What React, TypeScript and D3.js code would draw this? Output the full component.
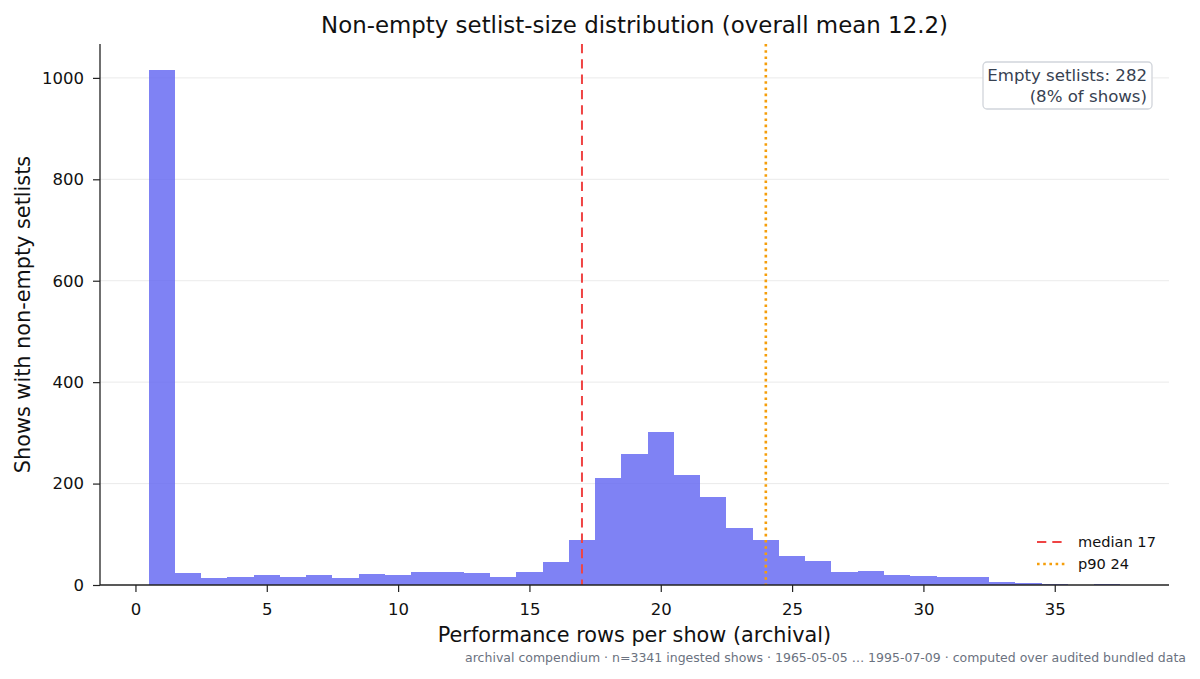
import React, { useEffect, useRef } from 'react';
import * as d3 from 'd3';

// rows per show (bin centres, width 1)
const rowCounts = [
  1, 2, 3, 4, 5, 6, 7, 8, 9, 10, 11, 12, 13, 14, 15, 16, 17, 18, 19,
  20, 21, 22, 23, 24, 25, 26, 27, 28, 29, 30, 31, 32, 33, 34, 35, 36, 37
];
// number of shows in each bin
const showCounts = [
  1016, 23, 13, 15, 19, 15, 19, 13, 21, 19, 25, 25, 23, 15, 25, 46, 88, 211, 258,
  302, 217, 173, 112, 88, 58, 47, 25, 27, 19, 17, 15, 15, 5, 3, 1, 0, 1
];
const xTicks = [0, 5, 10, 15, 20, 25, 30, 35];
const yTicks = [0, 200, 400, 600, 800, 1000];

const medianRows = 17;
const p90Rows = 24;
const emptySetlists = 282;
const emptyShare = 8;
const overallMean = 12.2;

const titleText = `Non-empty setlist-size distribution (overall mean ${overallMean})`;
const xLabel = 'Performance rows per show (archival)';
const yLabel = 'Shows with non-empty setlists';
const footerText = 'archival compendium · n=3341 ingested shows · 1965-05-05 … 1995-07-09 · computed over audited bundled data';

const FONT = '"DejaVu Sans", sans-serif';

const App: React.FC = () => {
  const svgRef = useRef<SVGSVGElement>(null);

  useEffect(() => {
    if (!svgRef.current) return;
    const width = 1200;
    const height = 679;
    const plot = { left: 100, right: 1169, top: 44, bottom: 585 };

    const root = d3.select(svgRef.current);
    root.selectAll('*').remove();
    root.attr('width', width).attr('height', height);

    root.append('rect')
      .attr('width', width)
      .attr('height', height)
      .attr('fill', '#ffffff');

    // matplotlib-style 5% padding around the bin edges
    const lo = rowCounts[0] - 0.5;
    const hi = rowCounts[rowCounts.length - 1] + 0.5;
    const pad = (hi - lo) * 0.05;
    const xScale = d3.scaleLinear()
      .domain([lo - pad, hi + pad])
      .range([plot.left, plot.right]);

    const yMax = (d3.max(showCounts) as number) * 1.05;
    const yScale = d3.scaleLinear()
      .domain([0, yMax])
      .range([plot.bottom, plot.top]);

    // gridlines
    root.append('g')
      .selectAll('line')
      .data(yTicks.filter(t => t > 0))
      .enter()
      .append('line')
      .attr('x1', plot.left)
      .attr('x2', plot.right)
      .attr('y1', d => yScale(d))
      .attr('y2', d => yScale(d))
      .attr('stroke', '#e8e8e8')
      .attr('stroke-width', 0.9);

    // histogram bars
    root.append('g')
      .selectAll('rect')
      .data(rowCounts)
      .enter()
      .append('rect')
      .attr('x', d => xScale(d - 0.5))
      .attr('width', d => xScale(d + 0.5) - xScale(d - 0.5))
      .attr('y', (d, i) => yScale(showCounts[i]))
      .attr('height', (d, i) => plot.bottom - yScale(showCounts[i]))
      .attr('fill', '#6366f1')
      .attr('fill-opacity', 0.82)
      .attr('shape-rendering', 'crispEdges');

    const medianDash = '9.3,6';
    const p90Dash = '2.6,3.6';

    // median + p90 reference lines
    root.append('line')
      .attr('x1', xScale(medianRows))
      .attr('x2', xScale(medianRows))
      .attr('y1', plot.top)
      .attr('y2', plot.bottom)
      .attr('stroke', '#ef4444')
      .attr('stroke-width', 2)
      .attr('stroke-dasharray', medianDash);

    root.append('line')
      .attr('x1', xScale(p90Rows))
      .attr('x2', xScale(p90Rows))
      .attr('y1', plot.top)
      .attr('y2', plot.bottom)
      .attr('stroke', '#f59e0b')
      .attr('stroke-width', 2.6)
      .attr('stroke-dasharray', p90Dash);

    // axes
    const xAxis = d3.axisBottom(xScale)
      .tickValues(xTicks)
      .tickFormat(d3.format('d'))
      .tickSize(7)
      .tickPadding(11)
      .tickSizeOuter(0);
    const gx = root.append('g')
      .attr('transform', `translate(0,${plot.bottom})`)
      .call(xAxis);

    const yAxis = d3.axisLeft(yScale)
      .tickValues(yTicks)
      .tickFormat(d3.format('d'))
      .tickSize(7)
      .tickPadding(9)
      .tickSizeOuter(0);
    const gy = root.append('g')
      .attr('transform', `translate(${plot.left},0)`)
      .call(yAxis);

    [gx, gy].forEach(g => {
      g.select('.domain').attr('stroke', '#222').attr('stroke-width', 1.3);
      g.selectAll('.tick line').attr('stroke', '#222').attr('stroke-width', 1.2);
      g.selectAll('.tick text')
        .attr('fill', '#111')
        .attr('font-family', FONT)
        .attr('font-size', 16.5);
    });
    gx.select('.domain').attr('d', `M${plot.left},0H${plot.right}`);
    gy.select('.domain').attr('d', `M0,${plot.bottom}V${plot.top}`);

    // title and labels
    const midX = (plot.left + plot.right) / 2;
    root.append('text')
      .attr('x', midX)
      .attr('y', 33)
      .attr('text-anchor', 'middle')
      .attr('font-family', FONT)
      .attr('font-size', 22.9)
      .attr('fill', '#111')
      .text(titleText);

    root.append('text')
      .attr('x', midX)
      .attr('y', 642)
      .attr('text-anchor', 'middle')
      .attr('font-family', FONT)
      .attr('font-size', 20.8)
      .attr('fill', '#111')
      .text(xLabel);

    root.append('text')
      .attr('transform', `translate(30,${(plot.top + plot.bottom) / 2}) rotate(-90)`)
      .attr('text-anchor', 'middle')
      .attr('font-family', FONT)
      .attr('font-size', 20.8)
      .attr('fill', '#111')
      .text(yLabel);

    // empty-setlist annotation box
    const note = root.append('g');
    note.append('rect')
      .attr('x', 983)
      .attr('y', 62)
      .attr('width', 169)
      .attr('height', 47)
      .attr('rx', 4)
      .attr('fill', '#ffffff')
      .attr('fill-opacity', 0.9)
      .attr('stroke', '#d1d5db')
      .attr('stroke-width', 1.3);
    note.append('text')
      .attr('x', 1147)
      .attr('y', 81)
      .attr('text-anchor', 'end')
      .attr('font-family', FONT)
      .attr('font-size', 16.6)
      .attr('fill', '#374151')
      .text(`Empty setlists: ${emptySetlists}`);
    note.append('text')
      .attr('x', 1147)
      .attr('y', 102)
      .attr('text-anchor', 'end')
      .attr('font-family', FONT)
      .attr('font-size', 16.6)
      .attr('fill', '#374151')
      .text(`(${emptyShare}% of shows)`);

    // legend
    const legendItems = [
      { label: `median ${medianRows}`, color: '#ef4444', dash: medianDash, width: 2 },
      { label: `p90 ${p90Rows}`, color: '#f59e0b', dash: p90Dash, width: 2.6 }
    ];
    const legend = root.append('g');
    legendItems.forEach((item, i) => {
      const y = 542 + i * 22;
      legend.append('line')
        .attr('x1', 1037)
        .attr('x2', 1066)
        .attr('y1', y)
        .attr('y2', y)
        .attr('stroke', item.color)
        .attr('stroke-width', item.width)
        .attr('stroke-dasharray', item.dash);
      legend.append('text')
        .attr('x', 1078)
        .attr('y', y + 5.3)
        .attr('font-family', FONT)
        .attr('font-size', 14.6)
        .attr('fill', '#111')
        .text(item.label);
    });

    // footer
    root.append('text')
      .attr('x', 1186)
      .attr('y', 662)
      .attr('text-anchor', 'end')
      .attr('font-family', FONT)
      .attr('font-size', 12.5)
      .attr('fill', '#6b7280')
      .text(footerText);
  }, []);

  return (
    <svg
      ref={svgRef}
      style={{ position: 'absolute', left: 0, top: 0, display: 'block' }}
    />
  );
};

export default App;
